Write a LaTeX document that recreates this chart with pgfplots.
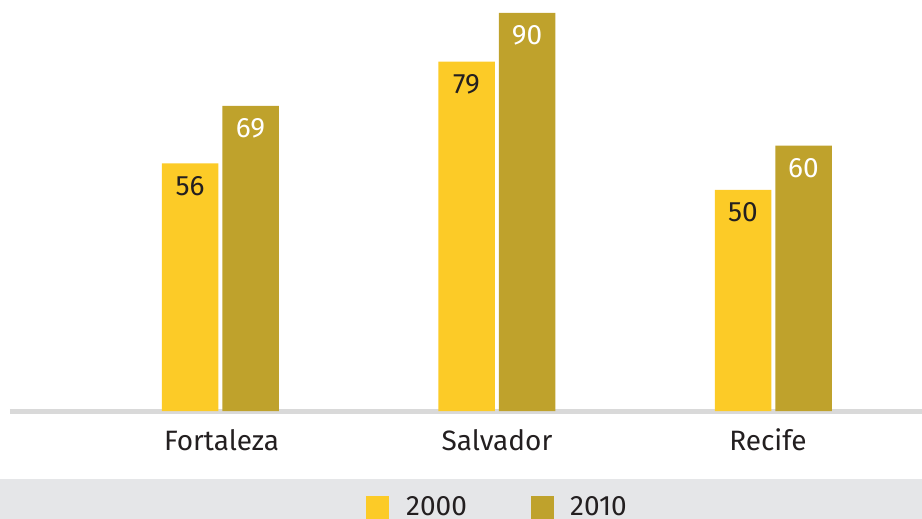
\documentclass[border=0pt]{standalone}
\usepackage{pgfplots}
\pgfplotsset{compat=1.18}
\usepackage{fontspec}
\setmainfont{Fira Sans}
\definecolor{cA}{HTML}{FCCB27}
\definecolor{cB}{HTML}{BFA22C}
\definecolor{grayline}{HTML}{D9D9D9}
\definecolor{band}{HTML}{E5E6E8}
\definecolor{txt}{HTML}{231F20}
\begin{document}
\begin{tikzpicture}[font=\fontsize{28}{33}\selectfont]
\path[use as bounding box] (0,0) rectangle (922pt,519pt);
\begin{axis}[
  at={(0,0)}, anchor=south west,
  scale only axis, width=922pt, height=519pt,
  xmin=-0.79656, xmax=2.53797, ymin=-24.42, ymax=92.94,
  hide axis,
  ybar=4pt, bar width=56.5pt,
  nodes near coords,
  /pgf/number format/assume math mode=true,
  every node near coord/.append style={anchor=base, yshift=-32pt, font=\fontsize{28}{33}\selectfont},
]
\fill[band] (axis cs:-0.79656,-15.38) rectangle (axis cs:2.53797,-24.42);
\draw[grayline, line width=5.5pt] (axis cs:-0.7604,-0.1) -- (axis cs:2.6,-0.1);
\addplot[fill=cA, draw=none, every node near coord/.append style={text=txt}] coordinates {(0,56) (1,79) (2,50)};
\addplot[fill=cB, draw=none, every node near coord/.append style={text=white}] coordinates {(0,69) (1,90) (2,60)};
\node[anchor=base, inner sep=0, text=txt] at (axis cs:0.0045,-8.82) {Fortaleza};
\node[anchor=base, inner sep=0, text=txt] at (axis cs:1.0009,-8.82) {Salvador};
\node[anchor=base, inner sep=0, text=txt] at (axis cs:1.9810,-8.82) {Recife};
\fill[cA] (axis cs:0.5271,-19.22) rectangle (axis cs:0.6103,-26);
\node[anchor=base west, inner sep=0, text=txt] at (axis cs:0.6718,-23.6) {2000};
\fill[cB] (axis cs:1.1239,-19.22) rectangle (axis cs:1.2071,-26);
\node[anchor=base west, inner sep=0, text=txt] at (axis cs:1.2649,-23.6) {2010};
\end{axis}
\end{tikzpicture}
\end{document}
